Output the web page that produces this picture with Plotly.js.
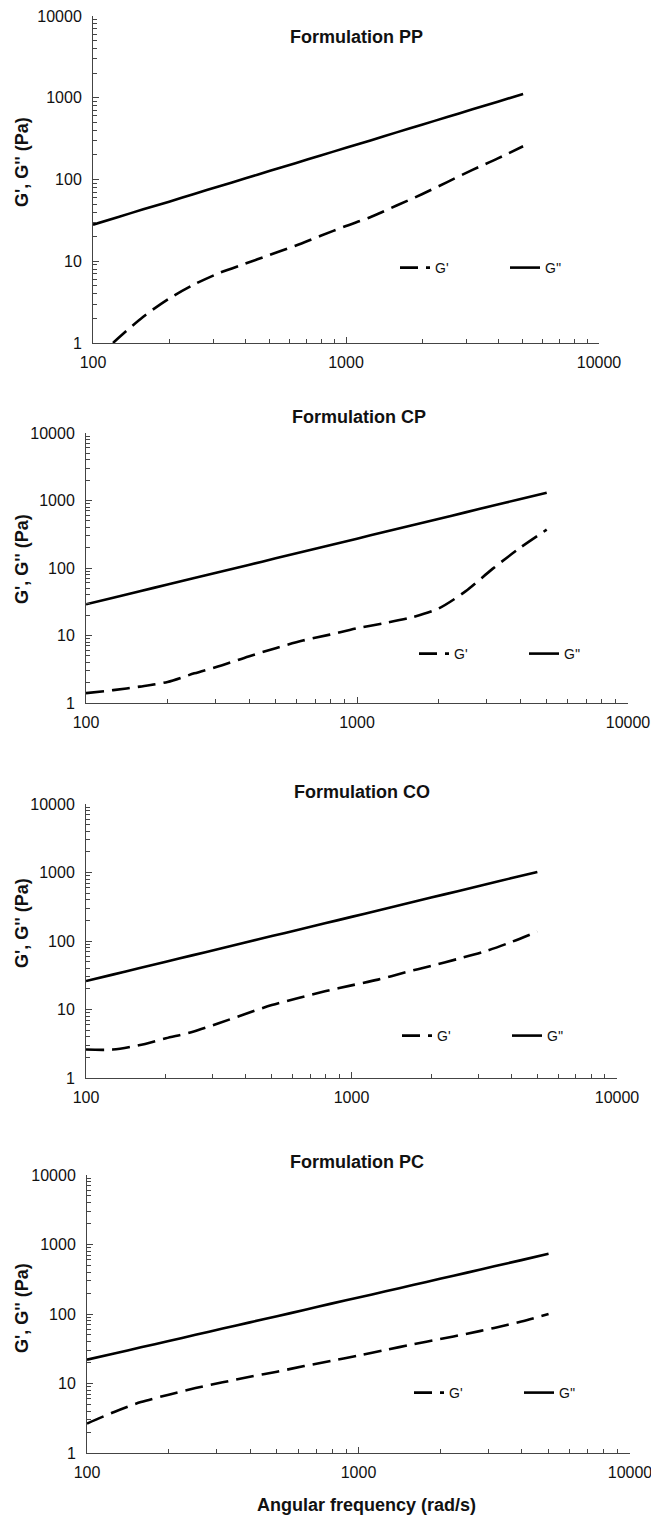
<!DOCTYPE html>
<html>
<head>
<meta charset="utf-8">
<script src="https://cdn.plot.ly/plotly-3.0.1.min.js"></script>
<style>html,body{margin:0;padding:0;background:#fff}#chart{width:651px;height:1521px}</style>
</head>
<body>
<div id="chart"></div>
<script>
// ---- data ----
const panelTitles = ["Formulation PP", "Formulation CP", "Formulation CO", "Formulation PC"];
const freq = [100,126,158,200,251,316,398,501,631,794,1000,1259,1585,1995,2512,3162,3981,5012];
const freqPP_G1 = [120,126,158,200,251,316,398,501,631,794,1000,1259,1585,1995,2512,3162,3981,5012];

const PP_G1 = [1.0,1.15,2.1,3.5,5.2,7.2,9.3,12,15.5,20.5,27,35,48,66,93,131,181,255];
const PP_G2 = [28,34.8,43.2,53.6,66.6,82.7,102.7,127.6,158,197,244,303,377,468,581,722,896,1113];

const CP_G1 = [1.4,1.55,1.75,2.05,2.75,3.6,4.9,6.5,8.4,10.3,12.8,15.2,18.5,25,45,97,197,370];
const CP_G2 = [29,36.3,45.4,56.8,71,89,111,139,174,218,272,341,426,533,667,835,1045,1306];

const CO_G1 = [2.6,2.6,3.0,3.8,4.7,6.3,8.6,11.6,14.7,18.4,22.5,27.3,34.6,43.4,54.7,70,96,137];
const CO_G2 = [26,32.3,40,49.7,61.7,76.5,95,118,146,181,225,279,347,430,534,663,823,1020];

const PC_G1 = [2.65,3.9,5.4,6.9,8.6,10.4,12.5,14.8,17.8,21.2,25.3,30.5,36.5,43.5,52,63,78,100];
const PC_G2 = [22,27,33.2,40.8,50.2,61.7,75.8,93,114,141,173,212,261,321,394,485,596,735];

const seriesNames = ["G'", "G''"];
const xTitle = "Angular frequency (rad/s)";
const yTitle = "G', G'' (Pa)";

// ---- layout geometry (pixels -> paper fractions) ----
const W = 651, H = 1521;
const panels = [
  {px:[93,599], py:[16,343],  g1x:freqPP_G1, g1:PP_G1, g2:PP_G2, leg:[395,268], title:[356,37],  ytl:162},
  {px:[86,628], py:[433,703], g1x:freq,      g1:CP_G1, g2:CP_G2, leg:[414,654], title:[359,417], ytl:559},
  {px:[86,617], py:[804,1078],g1x:freq,      g1:CO_G1, g2:CO_G2, leg:[397,1036],title:[362,792], ytl:923},
  {px:[87,630], py:[1175,1453],g1x:freq,     g1:PC_G1, g2:PC_G2, leg:[409,1393],title:[357,1162],ytl:1308}
];

const FONT = "Liberation Sans, Arial, Helvetica, sans-serif";
const AX = '#444';
const traces = [];
const layout = {
  width: W, height: H,
  margin: {l:0, r:0, t:0, b:0},
  paper_bgcolor: '#fff', plot_bgcolor: '#fff',
  showlegend: true,
  separators: '.',
  font: {family: FONT, color: '#000'},
  annotations: [],
};

panels.forEach((p, i) => {
  const k = i === 0 ? '' : String(i + 1);
  const xname = 'x' + k, yname = 'y' + k;
  const legName = 'legend' + k;
  traces.push({
    x: p.g1x, y: p.g1, xaxis: xname, yaxis: yname, name: seriesNames[0],
    mode: 'lines', type: 'scatter', legend: legName,
    line: {color: '#000', width: 2.6, dash: '18px,8px', shape: 'spline', smoothing: 0.8}
  });
  traces.push({
    x: freq, y: p.g2, xaxis: xname, yaxis: yname, name: seriesNames[1],
    mode: 'lines', type: 'scatter', legend: legName,
    line: {color: '#000', width: 2.6, shape: 'spline', smoothing: 0.6}
  });
  const common = {
    type: 'log', showline: true, linecolor: AX, linewidth: 1,
    ticks: 'inside', ticklen: 6, tickcolor: AX, tickwidth: 1,
    minor: {ticks: 'inside', ticklen: 4, tickcolor: AX, tickwidth: 1, dtick: 'D1', showgrid: false},
    showgrid: false, zeroline: false, mirror: false, automargin: false,
    dtick: 1, tickformat: 'd', exponentformat: 'none', separatethousands: false,
    ticklabeloverflow: 'allow',
    tickfont: {family: FONT, size: 16, color: '#111'}
  };
  layout['xaxis' + k] = Object.assign({}, common, {
    range: [2, 4], anchor: yname,
    domain: [p.px[0] / W, p.px[1] / W],
    ticklabelstandoff: 5
  });
  layout['yaxis' + k] = Object.assign({}, common, {
    range: [0, 4], anchor: xname,
    domain: [1 - p.py[1] / H, 1 - p.py[0] / H],
    ticklabelstandoff: 7
  });
  layout[legName] = {
    orientation: 'h', x: p.leg[0] / W, y: 1 - p.leg[1] / H,
    xanchor: 'left', yanchor: 'middle', bgcolor: 'rgba(0,0,0,0)',
    font: {family: FONT, size: 14, color: '#111'},
    entrywidth: 65, entrywidthmode: 'pixels', itemwidth: 30
  };
  layout.annotations.push({
    text: '<b>' + panelTitles[i] + '</b>', xref: 'paper', yref: 'paper',
    x: p.title[0] / W, y: 1 - p.title[1] / H, xanchor: 'center', yanchor: 'middle',
    showarrow: false, font: {family: FONT, size: 18, color: '#111'}
  });
  layout.annotations.push({
    text: '<b>' + yTitle + '</b>', xref: 'paper', yref: 'paper', textangle: -90,
    x: 22 / W, y: 1 - p.ytl / H, xanchor: 'center', yanchor: 'middle',
    showarrow: false, font: {family: FONT, size: 18, color: '#111'}
  });
});

layout.annotations.push({
  text: '<b>' + xTitle + '</b>', xref: 'paper', yref: 'paper',
  x: 366 / W, y: 1 - 1505 / H, xanchor: 'center', yanchor: 'middle',
  showarrow: false, font: {family: FONT, size: 18, color: '#111'}
});

Plotly.newPlot('chart', traces, layout, {staticPlot: true, displayModeBar: false});
</script>
</body>
</html>
